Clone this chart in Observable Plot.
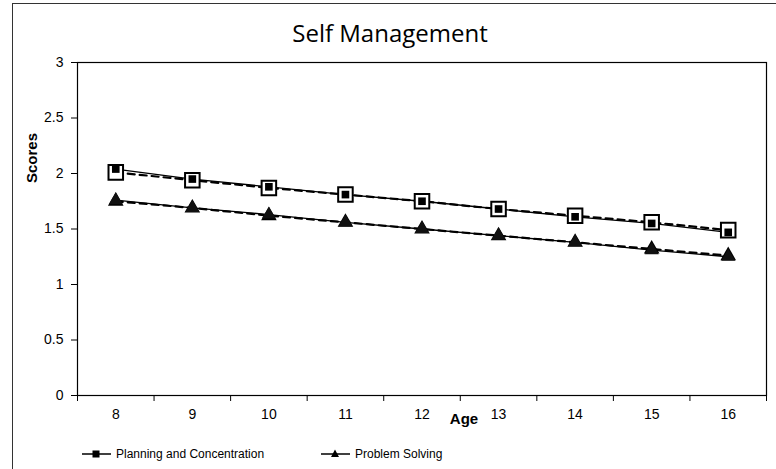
<!DOCTYPE html>
<html>
<head>
<meta charset="utf-8">
<script src="https://cdn.jsdelivr.net/npm/d3@7"></script>
<script src="https://cdn.jsdelivr.net/npm/@observablehq/plot@0.6"></script>
<style>
  body { margin: 0; background: #fff; }
  #chart { position: relative; width: 776px; height: 469px; overflow: hidden; font-family: "Liberation Sans", Arial, sans-serif; background: #fff; }
  #frame { position: absolute; left: 12px; top: 3px; width: 900px; height: 600px; border-left: 1px solid #333; border-top: 1px solid #333; pointer-events: none; }
  #title { height: 50px; width: 780px; text-align: center; font-family: "Open Sans", sans-serif; font-size: 24px; line-height: 50px; padding-top: 8px; box-sizing: border-box; color: #000; }
  #plot svg { display: block; }
  #legend { position: relative; height: 29px; font-size: 12px; color: #000; }
  .item { position: absolute; top: 6px; display: flex; align-items: center; height: 16px; }
  .item svg { margin-right: 5px; }
</style>
</head>
<body>
<div id="chart">
  <div id="title">Self Management</div>
  <div id="plot"></div>
  <div id="legend"></div>
  <div id="frame"></div>
</div>
<script>
// ---- data ----
const ages = [8, 9, 10, 11, 12, 13, 14, 15, 16];
const planning      = [2.04, 1.95, 1.88, 1.81, 1.75, 1.68, 1.61, 1.55, 1.47];
const planningTrend = [2.01, 1.94, 1.87, 1.81, 1.75, 1.68, 1.62, 1.56, 1.49];
const problem       = [1.76, 1.69, 1.63, 1.56, 1.50, 1.44, 1.38, 1.31, 1.25];
const problemTrend  = [1.75, 1.69, 1.62, 1.56, 1.50, 1.44, 1.38, 1.32, 1.26];
const yTicks = [0, 0.5, 1, 1.5, 2, 2.5, 3];
const seriesNames = ["Planning and Concentration", "Problem Solving"];

const rows = (vals) => ages.map((a, i) => ({age: a, value: vals[i]}));
const pObs = rows(planning), pFit = rows(planningTrend);
const sObs = rows(problem), sFit = rows(problemTrend);
const bounds = ages.map(a => a - 0.5).concat([ages[ages.length - 1] + 0.5]);

const plot = Plot.plot({
  width: 776,
  height: 390,
  marginLeft: 77,
  marginRight: 10,
  marginTop: 12,
  marginBottom: 45,
  style: {fontFamily: "'Liberation Sans', Arial, sans-serif", fontSize: "14px", color: "#000", background: "#fff"},
  x: {domain: [bounds[0], bounds[bounds.length - 1]]},
  y: {domain: [0, 3]},
  marks: [
    Plot.frame({stroke: "#000", strokeWidth: 1.2}),
    Plot.axisY({ticks: yTicks, tickSize: 6, tickPadding: 8, tickFormat: d => String(d), label: null, stroke: "#000"}),
    Plot.axisX({ticks: bounds, tickSize: 6, tickFormat: () => "", label: null, stroke: "#000"}),
    Plot.axisX({ticks: ages, tickSize: 0, tickPadding: 14, tickFormat: d => String(d), label: null}),
    Plot.text(["Age"], {frameAnchor: "bottom", dx: 42, dy: 28, fontWeight: "bold", fontSize: 15}),
    Plot.text(["Scores"], {frameAnchor: "left", rotate: -90, dx: -45, dy: -46, fontWeight: "bold", fontSize: 15}),
    Plot.line(pFit, {x: "age", y: "value", stroke: "#000", strokeWidth: 2.2, strokeDasharray: "7,5"}),
    Plot.line(pObs, {x: "age", y: "value", stroke: "#000", strokeWidth: 1.3}),
    Plot.line(sFit, {x: "age", y: "value", stroke: "#000", strokeWidth: 2.2, strokeDasharray: "7,5"}),
    Plot.line(sObs, {x: "age", y: "value", stroke: "#000", strokeWidth: 1.3}),
    Plot.dot(pFit, {x: "age", y: "value", symbol: "square", r: 8.2, fill: "#fff", stroke: "#000", strokeWidth: 2}),
    Plot.dot(pObs, {x: "age", y: "value", symbol: "square", r: 4.3, fill: "#000"}),
    Plot.dot(sFit, {x: "age", y: "value", symbol: "triangle", r: 5.8, fill: "#000"}),
    Plot.dot(sObs, {x: "age", y: "value", symbol: "triangle", r: 5.2, fill: "#111"})
  ]
});
document.getElementById("plot").appendChild(plot);

// ---- legend ----
const legend = document.getElementById("legend");
const symbols = ["square", "triangle"];
const lefts = [82, 321];
seriesNames.forEach((name, i) => {
  const item = document.createElement("div");
  item.className = "item";
  item.style.left = lefts[i] + "px";
  const sym = symbols[i] === "square"
    ? '<rect x="10.5" y="4.5" width="7" height="7" fill="#000"/>'
    : '<path d="M14,3.5 L18,11 L10,11 Z" fill="#000"/>';
  item.innerHTML = '<svg width="29" height="16"><line x1="0" y1="8" x2="29" y2="8" stroke="#000" stroke-width="1.5"/>' + sym + '</svg><span>' + name + '</span>';
  legend.appendChild(item);
});
</script>
</body>
</html>
